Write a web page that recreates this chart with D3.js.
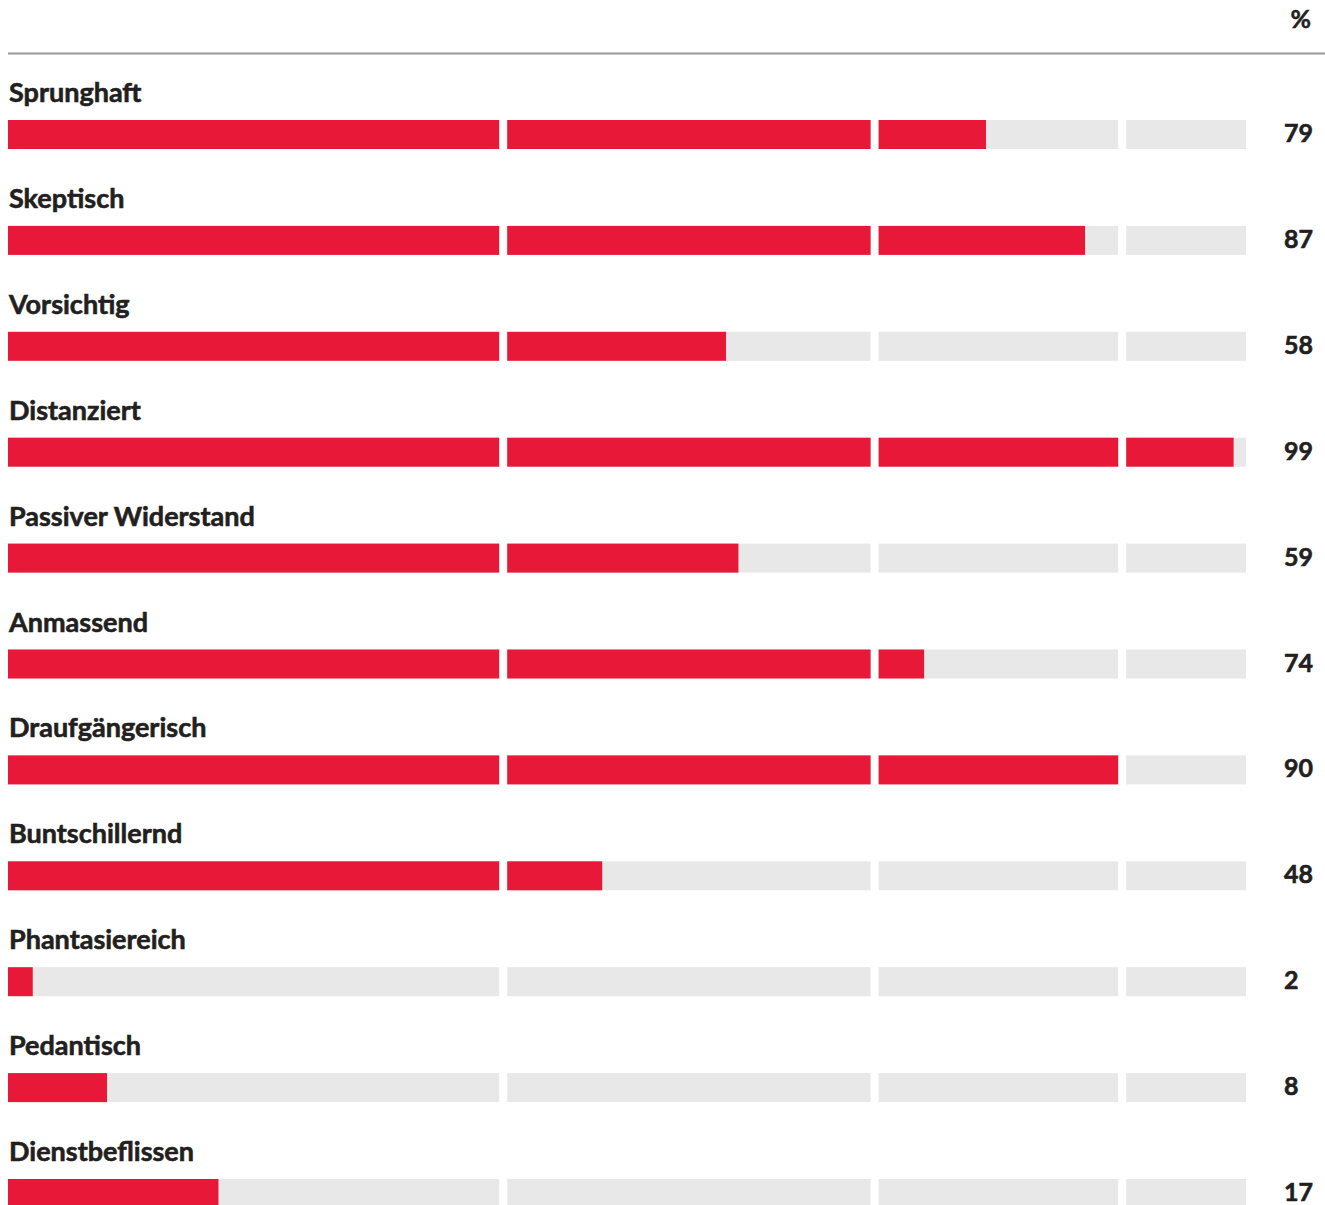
<!DOCTYPE html>
<html><head><meta charset="utf-8">
<script src="https://cdn.jsdelivr.net/npm/d3@7"></script>
<style>body{margin:0;background:#fff}svg{display:block}text{font-family:Lato,"Open Sans",sans-serif;font-weight:700;fill:#231f20}</style>
</head><body><svg id="c" width="1325" height="1205"></svg>
<script>
const categories = ["Sprunghaft","Skeptisch","Vorsichtig","Distanziert","Passiver Widerstand","Anmassend","Draufgängerisch","Buntschillernd","Phantasiereich","Pedantisch","Dienstbeflissen"];
const values = [79,87,58,99,59,74,90,48,2,8,17];
const segmentBreaks = [0,40,70,90,100];
const unitLabel = "%";

const svg = d3.select("#c");
const x = d3.scaleLinear().domain([0,100]).range([8,1246]);
const y = d3.scaleBand().domain(categories).range([120, 120+105.9*11]).paddingInner(0).paddingOuter(0);
const barH = 29, gap = 8;

svg.append("line").attr("x1",8).attr("x2",1325).attr("y1",53.5).attr("y2",53.5).attr("stroke","#9a9a9a").attr("stroke-width",2);
svg.append("text").attr("x",1311).attr("y",28).attr("text-anchor","end").attr("font-size",25).attr("stroke","#231f20").attr("stroke-width",0.5).text(unitLabel);

const segs = d3.pairs(segmentBreaks).map(([a,b])=>({a,b,x0:x(a)+(a>0?gap/2:0),x1:x(b)-(b<100?gap/2:0)}));

const rows = svg.selectAll("g.row").data(categories.map((c,i)=>({c,v:values[i]}))).join("g").attr("class","row")
  .attr("transform",d=>`translate(0,${y(d.c)})`);
rows.append("text").attr("x",9).attr("y",-18).attr("font-size",27).attr("stroke","#231f20").attr("stroke-width",0.6).text(d=>d.c);
rows.selectAll("rect.track").data(()=>segs).join("rect").attr("class","track")
  .attr("x",s=>s.x0).attr("width",s=>s.x1-s.x0).attr("y",0).attr("height",barH).attr("fill","#e8e8e8");
rows.each(function(d){
  const xv = x(d.v);
  d3.select(this).selectAll("rect.val").data(segs.filter(s=>xv>s.x0)).join("rect").attr("class","val")
    .attr("x",s=>s.x0).attr("width",s=>Math.min(s.x1,xv)-s.x0).attr("y",0).attr("height",barH).attr("fill","#e81938");
});
rows.append("text").attr("x",1284).attr("y",22).attr("font-size",25).attr("stroke","#231f20").attr("stroke-width",0.6).text(d=>d.v);
</script></body></html>
